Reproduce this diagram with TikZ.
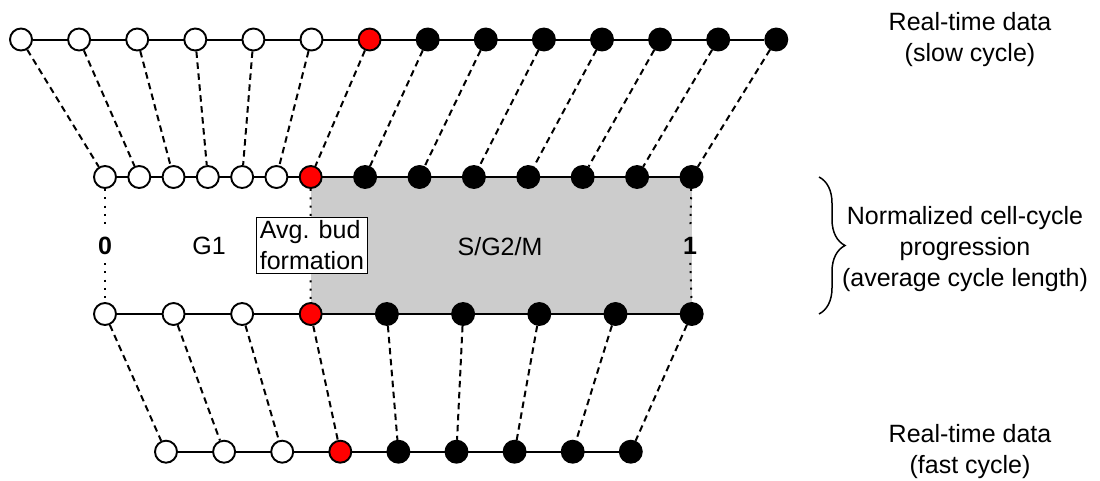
\documentclass[tikz,border=0pt]{standalone}
\usepackage{fontspec}
\setmainfont{Liberation Sans}
\usetikzlibrary{decorations.pathreplacing,backgrounds}
\definecolor{phasegray}{HTML}{CCCCCC}
\begin{document}
\begin{tikzpicture}[x=1pt,y=-1pt,
  pt/.style={circle, draw=black, line width=1.9pt, minimum size=22pt, inner sep=0pt, fill=#1},
  link/.style={line width=2pt, dash pattern=on 6.5pt off 4.5pt},
  rowline/.style={line width=2pt},
  dotline/.style={line width=2pt, dash pattern=on 2pt off 6.3pt},
  lbl/.style={font=\fontsize{25}{31}\selectfont, align=center, inner sep=0pt},
  numlbl/.style={font=\fontsize{25}{31}\selectfont\bfseries, inner sep=8pt},
  budbox/.style={draw=black, line width=1.3pt, fill=white, align=left, inner sep=3.3pt, font=\fontsize{25}{31}\selectfont},
  bracestyle/.style={decorate, decoration={brace, amplitude=26pt}, line width=1.5pt}
]
\useasboundingbox (0,0) rectangle (1100,480);

% top row (slow cycle)
\foreach \i in {0,...,13}{
  \pgfmathsetmacro\x{21+58.1*\i}
  \ifnum\i<6 \def\c{white}\else\ifnum\i=6 \def\c{red}\else\def\c{black}\fi\fi
  \node[pt=\c] (t\i) at (\x,39.5) {};
}
% normalized upper row
\foreach \i in {0,...,13}{
  \ifnum\i<7 \pgfmathsetmacro\x{105+34.283*\i}\else\pgfmathsetmacro\x{310.7+54.4*(\i-6)}\fi
  \ifnum\i<6 \def\c{white}\else\ifnum\i=6 \def\c{red}\else\def\c{black}\fi\fi
  \node[pt=\c] (m\i) at (\x,177) {};
}
% normalized lower row
\foreach \i in {0,...,8}{
  \ifnum\i<4 \pgfmathsetmacro\x{105+68.567*\i}\else\pgfmathsetmacro\x{310.7+76.2*(\i-3)}\fi
  \ifnum\i<3 \def\c{white}\else\ifnum\i=3 \def\c{red}\else\def\c{black}\fi\fi
  \node[pt=\c] (l\i) at (\x,314) {};
}
% bottom row (fast cycle)
\foreach \i in {0,...,8}{
  \pgfmathsetmacro\x{166+58.1*\i}
  \ifnum\i<3 \def\c{white}\else\ifnum\i=3 \def\c{red}\else\def\c{black}\fi\fi
  \node[pt=\c] (b\i) at (\x,451.7) {};
}

% labels
\node[numlbl] (zero) at (105,246) {0};
\node[lbl] (g1) at (209,246) {G1};
\node[budbox] (bud) at (312,245.5) {Avg. bud\\formation};
\node[lbl] (sg2m) at (500,247) {S/G2/M};
\node[numlbl] (one) at (690,246) {1};

\node[lbl] (slow) at (970,40) {Real-time data\\(slow cycle)};
\node[lbl] (fast) at (970,452) {Real-time data\\(fast cycle)};
\node[lbl] (norm) at (965,249) {Normalized cell-cycle\\progression\\(average cycle length)};

\coordinate (brtop) at (819,177);
\coordinate (brbot) at (819,314);
\draw[bracestyle] (brtop) -- (brbot);

% dashed mapping links
\foreach \i in {0,...,13}{ \draw[link] (t\i) -- (m\i); }
\foreach \i in {0,...,8}{ \draw[link] (l\i) -- (b\i); }

\begin{pgfonlayer}{background}
  \fill[phasegray] (m6.center) rectangle (l8.center);
  \draw[rowline] (t0) -- (t13);
  \draw[rowline] (m0) -- (m13);
  \draw[rowline] (l0) -- (l8);
  \draw[rowline] (b0) -- (b8);
  \draw[dotline] (m0) -- (zero) -- (l0);
  \draw[dotline] (m13) -- (one) -- (l8);
  \draw[dotline] (m6) -- (l3);
\end{pgfonlayer}
\end{tikzpicture}
\end{document}
